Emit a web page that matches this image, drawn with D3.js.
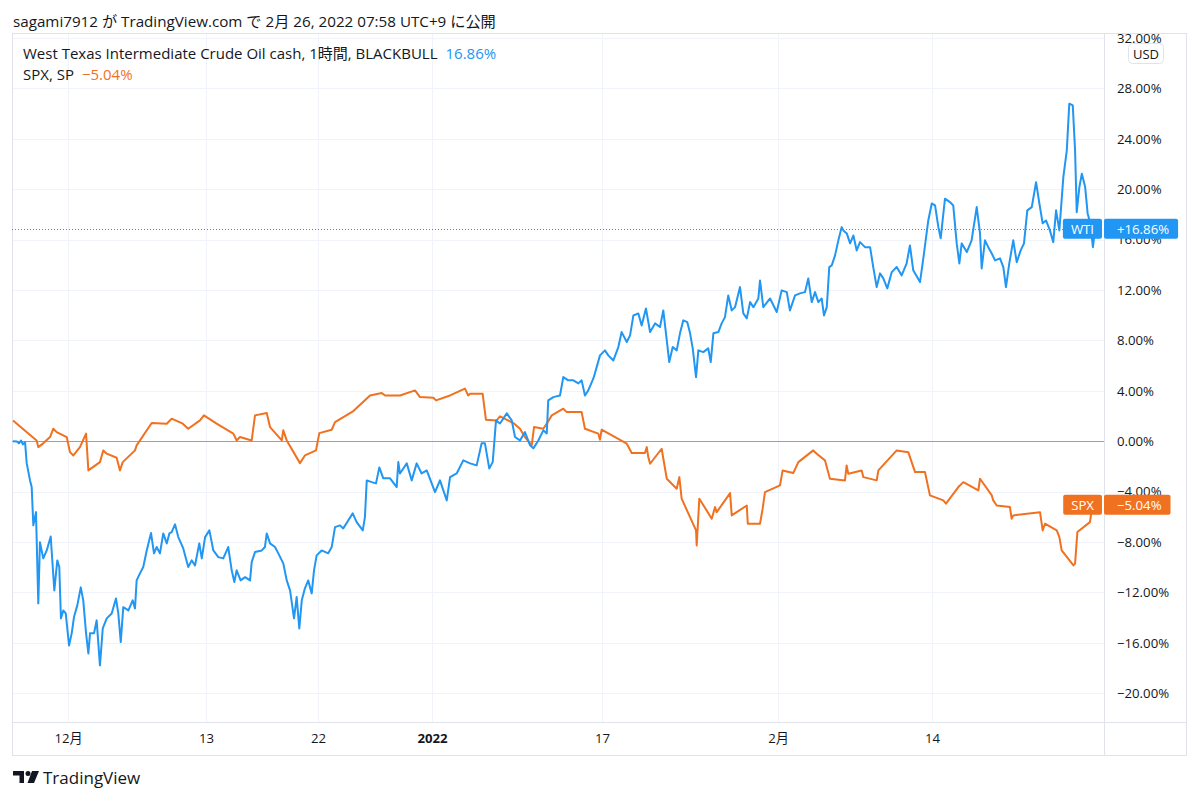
<!DOCTYPE html>
<html><head><meta charset="utf-8">
<script src="https://cdn.jsdelivr.net/npm/d3@7"></script>
<style>
body{margin:0;background:#fff}
svg{display:block}
text{font-family:"Open Sans","Noto Sans CJK JP",sans-serif;fill:#131722}
</style>
</head><body>
<svg id="chart" width="1200" height="800"></svg>
<script>
// ---- data ----
const headerText = "sagami7912 が TradingView.com で 2月 26, 2022 07:58 UTC+9 に公開";
const wtiName = "West Texas Intermediate Crude Oil cash, 1時間, BLACKBULL";
const spxName = "SPX, SP";
const wtiShort = "WTI";
const spxShort = "SPX";
const currency = "USD";

// x = trading-day index since the first bar, y = % change
const wtiPoints = [[0,0],[0.24,-0.02],[0.36,-0.17],[0.48,0.06],[0.6,-0.25],[0.73,-0.07],[0.83,-1.76],[1.03,-3.11],[1.13,-3.64],[1.23,-6.68],[1.39,-5.63],[1.53,-12.87],[1.63,-8.01],[1.83,-9.3],[2.04,-8.67],[2.28,-7.56],[2.5,-11.84],[2.68,-9.46],[2.8,-9.99],[2.9,-14.06],[3.04,-13.43],[3.19,-13.67],[3.39,-16.21],[3.55,-15.25],[3.69,-13.96],[3.89,-13.03],[4.1,-11.6],[4.25,-12.63],[4.42,-15.25],[4.56,-16.84],[4.66,-15.25],[4.9,-15.25],[5.06,-14.22],[5.26,-17.79],[5.43,-14.86],[5.67,-14.06],[5.97,-13.67],[6.23,-12.48],[6.37,-13.67],[6.52,-15.94],[6.67,-13.17],[6.98,-13.43],[7.24,-12.63],[7.38,-13.27],[7.48,-11.05],[7.68,-10.49],[7.88,-9.99],[8.09,-8.67],[8.35,-7.29],[8.53,-8.9],[8.69,-8.4],[8.89,-8.9],[9.09,-7.32],[9.3,-8.11],[9.46,-7.32],[9.6,-7.21],[9.8,-6.6],[10,-7.61],[10.3,-8.51],[10.6,-9.99],[10.81,-9.46],[11.01,-9.86],[11.27,-8.11],[11.42,-9.3],[11.62,-7.61],[11.88,-7.08],[12.12,-8.67],[12.42,-9.2],[12.72,-9.3],[13.02,-8.4],[13.23,-10.25],[13.39,-11.18],[13.53,-10.25],[13.77,-11.05],[14.04,-10.79],[14.34,-11.05],[14.44,-9.6],[14.64,-8.8],[15.05,-8.67],[15.24,-8.4],[15.35,-7.32],[15.55,-8.11],[15.85,-8.4],[16.05,-8.9],[16.35,-9.7],[16.56,-11.05],[16.76,-11.84],[17,-14.06],[17.16,-12.37],[17.32,-14.86],[17.47,-12.63],[17.66,-11.68],[17.86,-11.05],[18.07,-12.08],[18.21,-10.25],[18.37,-9.06],[18.67,-8.67],[19.07,-8.9],[19.28,-8.4],[19.48,-6.82],[19.78,-6.68],[19.98,-6.92],[20.28,-6.29],[20.55,-5.73],[20.79,-6.42],[21.16,-7.08],[21.29,-6.02],[21.4,-3.11],[21.7,-3.25],[21.96,-3.35],[22.16,-2.08],[22.4,-2.95],[22.81,-2.95],[23.21,-3.64],[23.31,-1.66],[23.41,-2.56],[23.82,-1.76],[24.12,-3.11],[24.42,-1.76],[24.72,-2.56],[25.03,-2.32],[25.33,-3.35],[25.53,-4.04],[25.83,-3.11],[26.24,-4.7],[26.44,-2.85],[26.84,-2.56],[27.24,-1.52],[27.65,-1.76],[28.05,-1.92],[28.35,-0.17],[28.55,-0.17],[28.81,-2.16],[29.02,-1.66],[29.22,1.65],[29.46,1.41],[29.87,2.21],[30.17,1.65],[30.37,0.33],[30.67,0.06],[30.97,0.72],[31.28,-0.33],[31.48,-0.57],[31.78,0.06],[32.08,0.86],[32.29,0.62],[32.38,3.24],[32.69,3.5],[33.09,3.63],[33.29,5.09],[33.59,4.83],[33.9,4.83],[34.2,4.59],[34.4,4.83],[34.6,3.63],[34.8,4.03],[35.11,4.98],[35.31,5.88],[35.51,6.81],[35.81,7.21],[36.01,6.81],[36.32,6.41],[36.62,7.47],[36.82,8.66],[37.13,7.87],[37.33,8.4],[37.53,9.98],[37.83,10.14],[38.03,9.19],[38.29,10.54],[38.54,8.66],[38.84,9.35],[39.14,9.06],[39.34,10.38],[39.55,8.0],[39.7,6.28],[39.91,7.47],[40.15,7.21],[40.35,8.56],[40.55,9.59],[40.79,9.45],[40.96,8.56],[41.12,7.37],[41.32,5.09],[41.46,7.21],[41.76,7.07],[42.06,7.37],[42.21,6.28],[42.37,8.56],[42.67,8.66],[42.87,9.35],[43.07,9.85],[43.27,11.57],[43.48,10.38],[43.68,10.64],[43.98,12.23],[44.18,10.14],[44.39,9.75],[44.59,11.04],[44.79,10.64],[45.09,11.33],[45.19,12.76],[45.39,10.64],[45.8,11.33],[46.2,10.25],[46.5,11.97],[46.81,11.83],[47,10.38],[47.31,11.57],[47.61,11.73],[47.91,11.83],[48.11,12.92],[48.32,11.04],[48.52,11.83],[48.72,11.04],[48.92,11.33],[49.06,9.98],[49.23,10.64],[49.38,13.82],[49.53,13.95],[49.73,14.75],[49.93,15.94],[50.13,16.99],[50.23,16.73],[50.44,16.49],[50.64,15.7],[50.84,16.33],[51.04,15.14],[51.24,15.8],[51.54,15.4],[51.85,15.4],[52.04,13.82],[52.25,12.23],[52.45,13.32],[52.65,12.92],[52.89,12.13],[53.16,13.42],[53.46,13.82],[53.76,13.16],[54.06,14.11],[54.26,15.54],[54.46,13.56],[54.87,12.63],[55.11,14.9],[55.37,17.52],[55.58,18.87],[55.78,18.71],[55.98,16.99],[56.12,16.1],[56.38,19.25],[56.68,18.98],[56.88,18.71],[57.09,15.7],[57.25,14.11],[57.39,15.7],[57.7,15.01],[57.99,15.94],[58.3,18.58],[58.5,16.49],[58.6,13.71],[58.8,15.94],[59,15.4],[59.21,14.9],[59.41,14.35],[59.71,14.51],[59.91,13.82],[60.07,12.23],[60.27,14.11],[60.51,15.94],[60.72,14.21],[60.96,15.14],[61.16,15.7],[61.36,18.32],[61.63,18.58],[61.89,20.56],[62.09,18.87],[62.29,17.29],[62.49,17.52],[62.73,16.73],[62.93,15.8],[63.1,18.32],[63.3,16.73],[63.54,20.96],[63.75,23.08],[63.9,26.79],[64.11,26.65],[64.25,23.08],[64.35,18.18],[64.51,20.17],[64.66,21.23],[64.86,20.17],[65.01,18.08],[65.17,17.29],[65.33,15.4],[65.47,16.86]];

const spxPoints = [[0,1.65],[1.43,0.06],[1.53,-0.47],[1.83,-0.17],[2.24,0.33],[2.44,0.99],[2.64,0.72],[3.25,0.33],[3.45,-0.87],[3.65,-1.13],[4.05,-0.47],[4.42,0.6],[4.56,-2.32],[5.26,-1.66],[5.46,-0.73],[5.67,-0.99],[6.27,-1.31],[6.47,-2.32],[6.64,-1.66],[7.38,-0.73],[7.48,-0.33],[8.39,1.44],[9.3,1.39],[9.6,1.79],[10.27,1.39],[10.6,0.99],[11.31,1.65],[11.55,2.05],[12.32,1.39],[13.33,0.6],[13.53,0.06],[13.73,0.33],[14.44,0.06],[14.64,2.05],[15.35,2.23],[15.55,1.12],[16.26,0.06],[16.35,0.86],[16.56,0.06],[17.36,-1.74],[17.66,-1.13],[18.33,-0.73],[18.53,0.64],[19.28,0.91],[19.48,1.52],[20.59,2.39],[21.6,3.63],[22.31,3.82],[22.51,3.63],[23.41,3.63],[24.32,4.03],[24.62,3.5],[25.43,3.45],[25.59,3.24],[26.44,3.63],[27.34,4.17],[27.54,3.63],[27.65,3.77],[28.41,3.77],[28.61,1.71],[29.26,1.65],[29.46,1.97],[30.27,1.44],[30.67,0.99],[30.97,0.33],[31.38,-0.33],[31.52,1.12],[32.08,0.99],[32.29,1.39],[32.59,2.05],[33.29,2.58],[33.5,2.31],[34.4,2.31],[34.6,0.99],[35.41,0.6],[35.51,0.12],[35.61,0.91],[37.13,-0.2],[37.43,-0.94],[38.23,-0.94],[38.34,-0.47],[38.43,-1.26],[38.54,-1.79],[39.24,-0.6],[39.55,-2.98],[40.15,-3.77],[40.31,-2.85],[40.45,-4.56],[41.32,-7.08],[41.36,-8.27],[41.52,-4.56],[42.27,-6.15],[42.47,-5.23],[42.57,-5.63],[43.38,-4.12],[43.48,-5.89],[44.39,-5.1],[44.45,-6.55],[45.19,-6.55],[45.35,-5.36],[45.49,-4.04],[46.4,-3.51],[46.56,-2.32],[47.2,-2.53],[47.51,-1.66],[48.41,-0.73],[48.62,-0.99],[49.12,-1.52],[49.42,-2.98],[50.33,-3.11],[50.43,-1.92],[50.53,-2.58],[51.34,-2.32],[51.44,-2.85],[52.25,-3.11],[52.35,-2.32],[53.46,-0.73],[54.16,-0.87],[54.57,-2.45],[55.17,-2.45],[55.47,-4.3],[56.28,-4.7],[56.44,-4.96],[57.19,-3.64],[57.49,-3.25],[58.4,-3.9],[58.5,-2.98],[59.21,-4.3],[59.3,-4.7],[59.51,-5.1],[60.31,-5.23],[60.41,-6.15],[60.51,-5.89],[62.13,-5.63],[62.29,-7.08],[62.43,-6.55],[63.14,-7.08],[63.3,-7.61],[63.44,-8.67],[64.15,-9.86],[64.25,-9.72],[64.39,-7.21],[65.15,-6.42],[65.3,-5.04]];

const yTicks = [-20,-16,-12,-8,-4,0,4,8,12,16,20,24,28,32];
const xTickDays = [3.33, 11.68, 18.45, 25.35, 35.63, 46.28, 55.6];
const xTickLabels = ["12月","13","22","2022","17","2月","14"];
const boldLabels = ["2022"];

// ---- styling / layout ----
const WTI_COLOR = "#2196F3", SPX_COLOR = "#F0711F";
const GRID = "#F0F3FA", BORDER = "#E0E3EB", TEXT = "#131722";
const FONT = '"Open Sans","Noto Sans CJK JP",sans-serif';
const L = {left:12, top:33, plotRight:1104, axisRight:1187, plotBottom:722, bottom:756};

const svg = d3.select("#chart");
const x = d3.scaleLinear().domain([0, 66]).range([13, L.plotRight]);
const y = d3.scaleLinear().domain([-20, 28]).range([693.2, 88.4]);

const defs = svg.append("defs");
defs.append("clipPath").attr("id","plotClip").append("rect")
  .attr("x",L.left).attr("y",L.top).attr("width",L.plotRight-L.left).attr("height",L.plotBottom-L.top);
defs.append("clipPath").attr("id","axisClip").append("rect")
  .attr("x",L.plotRight).attr("y",L.top).attr("width",L.axisRight-L.plotRight).attr("height",L.plotBottom-L.top);

// header
svg.append("text").attr("x",13).attr("y",27).attr("font-size",15.2).text(headerText);

// grid
const grid = svg.append("g").attr("clip-path","url(#plotClip)");
grid.selectAll("line.h").data(yTicks).join("line")
  .attr("x1",L.left).attr("x2",L.plotRight).attr("y1",d=>Math.round(y(d))+0.5).attr("y2",d=>Math.round(y(d))+0.5)
  .attr("stroke",GRID).attr("stroke-width",1);
grid.selectAll("line.v").data(xTickDays).join("line")
  .attr("y1",L.top).attr("y2",L.plotBottom).attr("x1",d=>Math.round(x(d))+0.5).attr("x2",d=>Math.round(x(d))+0.5)
  .attr("stroke",GRID).attr("stroke-width",1);

// frame
const frame = svg.append("g").attr("stroke",BORDER).attr("stroke-width",1).attr("fill","none");
frame.append("rect").attr("x",L.left+0.5).attr("y",L.top+0.5)
  .attr("width",L.axisRight-L.left-1).attr("height",L.bottom-L.top-1);
frame.append("line").attr("x1",L.left).attr("x2",L.axisRight).attr("y1",L.plotBottom+0.5).attr("y2",L.plotBottom+0.5);
frame.append("line").attr("x1",L.plotRight+0.5).attr("x2",L.plotRight+0.5).attr("y1",L.top).attr("y2",L.bottom);

// zero line and last value dotted line
const plot = svg.append("g").attr("clip-path","url(#plotClip)");
plot.append("line").attr("x1",L.left).attr("x2",L.plotRight)
  .attr("y1",Math.round(y(0))+0.5).attr("y2",Math.round(y(0))+0.5)
  .attr("stroke","#9DA0A8").attr("stroke-width",1);
const wtiLast = wtiPoints[wtiPoints.length-1][1];
const spxLast = spxPoints[spxPoints.length-1][1];
plot.append("line").attr("x1",L.left).attr("x2",L.plotRight)
  .attr("y1",Math.round(y(wtiLast))+0.5).attr("y2",Math.round(y(wtiLast))+0.5)
  .attr("stroke",WTI_COLOR).attr("stroke-width",1).attr("stroke-dasharray","1 2");

const line = d3.line().x(d=>x(d[0])).y(d=>y(d[1])).curve(d3.curveLinear);
plot.append("path").datum(spxPoints).attr("d",line).attr("fill","none")
  .attr("stroke",SPX_COLOR).attr("stroke-width",2).attr("stroke-linejoin","round");
plot.append("path").datum(wtiPoints).attr("d",line).attr("fill","none")
  .attr("stroke",WTI_COLOR).attr("stroke-width",2).attr("stroke-linejoin","round");

// price axis (clipped to the pane so the top label is cut like the reference)
const fmt = d3.format(".2f");
const yAxis = d3.axisRight(y).tickValues(yTicks).tickSize(0).tickPadding(13)
  .tickFormat(d=>fmt(d)+"%");
const ya = svg.append("g").attr("clip-path","url(#axisClip)")
  .append("g").attr("transform",`translate(${L.plotRight},0)`).call(yAxis);
ya.select(".domain").remove();
ya.selectAll("text").attr("font-size",13.2).attr("fill",TEXT).style("font-family",FONT);

// time axis
const xAxis = d3.axisBottom(x).tickValues(xTickDays).tickSize(0).tickPadding(12)
  .tickFormat((d,i)=>xTickLabels[i]);
const xa = svg.append("g").attr("transform",`translate(0,${L.plotBottom})`).call(xAxis);
xa.select(".domain").remove();
xa.selectAll("text").attr("font-size",13.2).attr("fill",TEXT).style("font-family",FONT)
  .attr("font-weight",(d,i)=>boldLabels.includes(xTickLabels[i])?"bold":"normal");

// USD badge
svg.append("rect").attr("x",1128.5).attr("y",43.5).attr("width",35).attr("height",20).attr("rx",4)
  .attr("fill","#fff").attr("stroke",BORDER);
svg.append("text").attr("x",1146).attr("y",53.5).attr("text-anchor","middle")
  .attr("dominant-baseline","central").attr("font-size",13).text(currency);

// last value labels
function lastLabel(value, color, shortName){
  const cy = y(value);
  const g = svg.append("g");
  const sign = value >= 0 ? "+" : "";
  const valTxt = g.append("text").attr("x",L.plotRight+13).attr("y",cy)
    .attr("dominant-baseline","central").attr("font-size",13.2).style("fill","#fff")
    .text(sign + fmt(value) + "%");
  const w = valTxt.node().getComputedTextLength();
  g.insert("rect","text").attr("x",L.plotRight).attr("y",cy-10).attr("width",13+w+9).attr("height",20)
    .attr("rx",2).attr("fill",color);
  const nameTxt = g.append("text").attr("x",L.plotRight-2-8).attr("y",cy)
    .attr("text-anchor","end").attr("dominant-baseline","central").attr("font-size",13.2).style("fill","#fff")
    .text(shortName);
  const nw = nameTxt.node().getComputedTextLength();
  g.insert("rect","text").attr("x",L.plotRight-2-nw-16).attr("y",cy-10).attr("width",nw+16).attr("height",20)
    .attr("rx",2).attr("fill",color);
}
lastLabel(wtiLast, WTI_COLOR, wtiShort);
lastLabel(spxLast, SPX_COLOR, spxShort);

// legend
const lg1 = svg.append("text").attr("x",23).attr("y",59).attr("font-size",15);
lg1.append("tspan").text(wtiName);
lg1.append("tspan").attr("dx",8).style("fill",WTI_COLOR).text(fmt(wtiLast)+"%");
const lg2 = svg.append("text").attr("x",23).attr("y",80).attr("font-size",15);
lg2.append("tspan").text(spxName);
lg2.append("tspan").attr("dx",8).style("fill",SPX_COLOR).text(fmt(spxLast)+"%");

// TradingView logo
const logo = svg.append("g").attr("fill",TEXT);
logo.append("path").attr("d","M13,771 H24 V783 H19.5 V775.5 H13 Z");
logo.append("circle").attr("cx",28).attr("cy",773.5).attr("r",2.5);
logo.append("path").attr("d","M32,771 H39 L34,783 H27.5 Z");
svg.append("text").attr("x",43).attr("y",784).attr("font-size",17).text("TradingView");
</script>
</body></html>
